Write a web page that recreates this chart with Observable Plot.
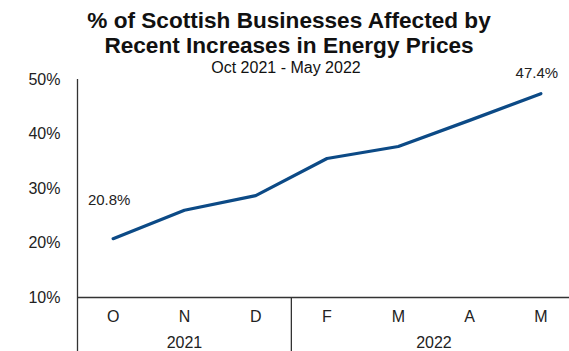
<!DOCTYPE html>
<html><head><meta charset="utf-8">
<script src="https://cdn.jsdelivr.net/npm/d3@7"></script>
<script src="https://cdn.jsdelivr.net/npm/@observablehq/plot@0.6"></script>
<style>
body{margin:0;background:#fff;overflow:hidden;font-family:"Liberation Sans",Arial,sans-serif;}
#wrap{position:relative;width:569px;height:351px;overflow:hidden;}
#title{position:absolute;left:0;top:8px;width:578px;text-align:center;font-weight:bold;font-size:22.6px;line-height:25px;color:#111;}
#sub{position:absolute;left:0;top:59px;width:572px;text-align:center;font-size:16px;line-height:18px;color:#111;}
</style></head>
<body>
<div id="wrap">
  <div id="chart"></div>
  <div id="title">% of Scottish Businesses Affected by<br>Recent Increases in Energy Prices</div>
  <div id="sub">Oct 2021 - May 2022</div>
</div>
<script>
const months = ["O", "N", "D", "F", "M", "A", "M"];
const years = [2021, 2021, 2021, 2022, 2022, 2022, 2022];
const values = [20.8, 26.0, 28.7, 35.5, 37.7, 42.5, 47.4];
const yTicks = [10, 20, 30, 40, 50];

const data = months.map((m, i) => ({i, m, year: years[i], v: values[i]}));
const yearGroups = d3.groups(data, d => d.year).map(([year, ds]) => ({year, mid: d3.mean(ds, d => d.i)}));
const dividers = yearGroups.slice(1).map(g => data.find(d => d.year === g.year).i - 0.5);
const first = data[0], last = data[data.length - 1];
const lo = -0.5, hi = data.length - 0.5;

const chart = Plot.plot({
  width: 569, height: 351,
  marginLeft: 77, marginRight: 0, marginTop: 79, marginBottom: 54,
  x: {domain: [lo, hi], range: [77, 576], axis: null},
  y: {domain: [10, 50], range: [297, 79], ticks: yTicks, tickFormat: d => d + "%", tickSize: 0, tickPadding: 17, label: null},
  style: {fontFamily: "'Liberation Sans', Arial, sans-serif", fontSize: "16px", color: "#222", background: "white", overflow: "visible"},
  marks: [
    Plot.ruleX([lo], {y1: 50, y2: 0, stroke: "#333", strokeWidth: 1.3}),
    Plot.ruleY([10], {x1: lo, x2: hi, stroke: "#333", strokeWidth: 1.3}),
    Plot.ruleX(dividers, {y1: 10, y2: 0, stroke: "#333", strokeWidth: 1.3}),
    Plot.line(data, {x: "i", y: "v", stroke: "#0c4a86", strokeWidth: 3.2}),
    Plot.text(data, {x: "i", y: () => 10, text: "m", dy: 19, fill: "#222"}),
    Plot.text(yearGroups, {x: "mid", y: () => 10, text: d => String(d.year), dy: 45, fill: "#222"}),
    Plot.text([first], {x: "i", y: "v", text: d => d.v.toFixed(1) + "%", dy: -38, dx: -4, fontSize: 15, fill: "#222"}),
    Plot.text([last], {x: "i", y: "v", text: d => d.v.toFixed(1) + "%", dy: -20, dx: -4, fontSize: 15, fill: "#222"})
  ]
});
document.getElementById("chart").appendChild(chart);
</script>
</body></html>
